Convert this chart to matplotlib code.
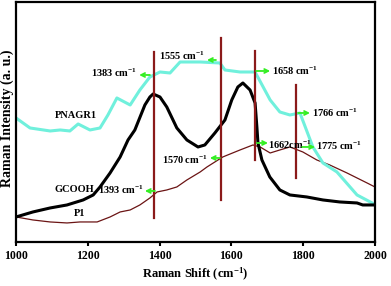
import matplotlib
matplotlib.use("Agg")
from matplotlib import pyplot as plt

plt.rcParams['font.family'] = 'Liberation Serif'
plt.rcParams['font.weight'] = 'bold'
plt.rcParams['mathtext.fontset'] = 'custom'
plt.rcParams['mathtext.rm'] = 'Liberation Serif:bold'
plt.rcParams['mathtext.it'] = 'Liberation Serif:bold'
plt.rcParams['mathtext.bf'] = 'Liberation Serif:bold'

# PNAGR1 (cyan)
pnagr1_x = [1000, 1039, 1095, 1123, 1150, 1173, 1206, 1234, 1256, 1281, 1318, 1345,
            1373, 1401, 1429, 1457, 1513, 1568, 1582, 1624, 1666, 1708, 1735, 1763,
            1791, 1827, 1855, 1894, 1950, 1992, 2000]
pnagr1_y = [124, 114, 111, 112, 111, 118, 112, 114, 127, 144, 137, 152,
            165, 170, 169, 180, 180, 179, 172, 170, 170, 142, 130, 127,
            129, 95, 79, 70, 47, 39, 37]

# GCOOH (black)
gcooh_x = [1000, 1047, 1095, 1142, 1187, 1215, 1234, 1262, 1290, 1312, 1331, 1359,
           1373, 1382, 1401, 1420, 1448, 1476, 1507, 1526, 1554, 1582, 1601, 1618,
           1632, 1652, 1666, 1671, 1674, 1685, 1707, 1735, 1763, 1810, 1855, 1902,
           1950, 1966, 2000]
gcooh_y = [25, 30, 34, 37, 42, 47, 55, 69, 85, 102, 112, 137,
           145, 148, 145, 135, 114, 102, 95, 97, 109, 122, 142, 155,
           159, 152, 139, 115, 99, 82, 65, 52, 47, 45, 42, 40,
           39, 37, 37]

# P1 (dark red)
p1_x = [1000, 1047, 1095, 1142, 1178, 1206, 1226, 1262, 1290, 1318, 1345, 1373,
        1393, 1420, 1448, 1476, 1513, 1532, 1576, 1624, 1660, 1680, 1708, 1735,
        1763, 1799, 1838, 1874, 1922, 1978, 2000]
p1_y = [25, 22, 20, 19, 20, 20, 20, 25, 30, 32, 37, 44,
        50, 52, 55, 62, 70, 75, 85, 92, 97, 95, 89, 92,
        95, 90, 82, 77, 69, 59, 55]

# vertical marker lines
vline_x = [1385, 1572, 1665, 1780]
vline_lo = [24, 42, 82, 64]
vline_hi = [190, 204, 191, 157]

# arrow annotations: label, text x, text y, ha, arrow tail x, arrow head x, arrow y
ann_text = ['1383 cm$^{-1}$', '1555 cm$^{-1}$', '1658 cm$^{-1}$', '1766 cm$^{-1}$',
            '1662cm$^{-1}$', '1775 cm$^{-1}$', '1570 cm$^{-1}$', '1393 cm$^{-1}$']
ann_tx = [1337, 1527, 1713, 1825, 1702, 1836, 1535, 1357]
ann_ty = [169, 186, 171, 129, 97, 96, 82, 52]
ann_ha = ['right', 'right', 'left', 'left', 'left', 'left', 'right', 'right']
arr_tail = [1373, 1557, 1669, 1786, 1671, 1797, 1568, 1387]
arr_head = [1343, 1532, 1708, 1819, 1702, 1833, 1540, 1359]
arr_y = [167, 182, 171, 129, 99, 95, 84, 51]

fig = plt.figure(figsize=(3.91, 2.86), dpi=100)
ax = fig.add_axes([0.041, 0.154, 0.918, 0.839])

ax.plot(p1_x, p1_y, color='#6b1414', lw=0.9)
ax.plot(pnagr1_x, pnagr1_y, color='#70f0dc', lw=2.2)
ax.plot(gcooh_x, gcooh_y, color='black', lw=2.2)

for x, lo, hi in zip(vline_x, vline_lo, vline_hi):
    ax.plot([x, x], [lo, hi], color='#8b1a1a', lw=1.6)

for t, tx, ty, ha, a0, a1, ay in zip(ann_text, ann_tx, ann_ty, ann_ha, arr_tail, arr_head, arr_y):
    ax.annotate('', xy=(a1, ay), xytext=(a0, ay),
                arrowprops=dict(arrowstyle='->', color='#33ee22', lw=1.3,
                                shrinkA=0, shrinkB=0, mutation_scale=7))
    ax.text(tx, ty, t, ha=ha, va='center', fontsize=7.5, fontweight='bold')

ax.text(1109, 126, 'PNAGR1', fontsize=7.5, fontweight='bold', va='center')
ax.text(1106, 52, 'GCOOH', fontsize=7.5, fontweight='bold', va='center')
ax.text(1162, 28, 'P1', fontsize=7.5, fontweight='bold', va='center')

ax.set_xlim(1000, 2000)
ax.set_ylim(0, 240)
ax.set_xticks([1000, 1200, 1400, 1600, 1800, 2000])
ax.set_yticks([])
ax.tick_params(axis='x', labelsize=8.5, length=3, width=1.5, pad=3)
for lab in ax.get_xticklabels():
    lab.set_fontweight('bold')
for s in ax.spines.values():
    s.set_linewidth(1.6)

ax.set_xlabel('Raman Shift (cm$^{-1}$)', fontsize=9, fontweight='bold', labelpad=3)
ax.set_ylabel('Raman Intensity (a. u.)', fontsize=10, fontweight='bold')
ax.yaxis.set_label_coords(-0.006, 0.517)

fig.savefig('out.png', dpi=100)
